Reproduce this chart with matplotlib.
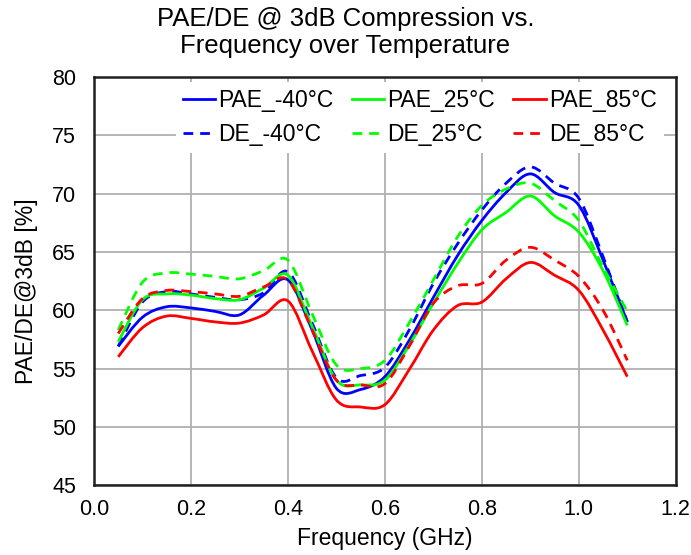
import numpy as np
import matplotlib
matplotlib.use("Agg")
import matplotlib.pyplot as plt
from matplotlib.path import Path
from matplotlib.patches import PathPatch
from matplotlib.lines import Line2D

plt.rcParams['font.family'] = ['Liberation Sans', 'DejaVu Sans']

# frequency points (GHz)
freq = [0.05, 0.10, 0.15, 0.20, 0.25, 0.30, 0.35, 0.40, 0.45, 0.50, 0.55,
        0.60, 0.65, 0.70, 0.75, 0.80, 0.85, 0.90, 0.95, 1.00, 1.05, 1.10]

pae_m40 = [56.9, 59.4, 60.3, 60.2, 59.9, 59.6, 61.3, 62.6, 58.3, 53.3, 53.2,
           54.3, 57.4, 61.1, 64.7, 67.7, 70.1, 71.7, 70.1, 69.0, 64.3, 59.0]
pae_25 = [57.3, 60.9, 61.4, 61.3, 61.0, 60.9, 61.9, 63.0, 58.6, 54.0, 53.6,
          54.0, 57.0, 60.6, 64.0, 66.9, 68.4, 69.8, 68.1, 66.7, 63.4, 58.7]
pae_85 = [56.0, 58.5, 59.5, 59.3, 59.0, 58.9, 59.6, 60.8, 56.5, 52.3, 51.7,
          51.9, 54.9, 58.3, 60.4, 60.7, 62.7, 64.1, 63.0, 61.7, 58.3, 54.3]
de_m40 = [56.9, 60.7, 61.6, 61.4, 61.1, 60.9, 61.5, 63.3, 58.9, 54.2, 54.4,
          55.1, 58.3, 62.3, 65.7, 68.6, 70.9, 72.3, 70.9, 69.6, 64.6, 59.0]
de_25 = [58.3, 62.4, 63.2, 63.1, 62.9, 62.7, 63.4, 64.3, 59.7, 55.3, 55.0,
         55.7, 58.9, 62.6, 66.3, 69.0, 70.4, 70.9, 69.4, 67.7, 63.7, 59.9]
de_85 = [58.0, 61.0, 61.7, 61.6, 61.4, 61.2, 62.0, 62.6, 58.3, 54.0, 53.6,
         53.7, 56.9, 60.6, 62.1, 62.3, 64.3, 65.4, 64.3, 62.9, 60.0, 55.7]

# legend order: column by column (PAE over DE)
labels = ['PAE_-40°C', 'DE_-40°C', 'PAE_25°C', 'DE_25°C', 'PAE_85°C', 'DE_85°C']
colors = ['#0000FF', '#0000FF', '#00FF00', '#00FF00', '#FF0000', '#FF0000']
series = [pae_m40, de_m40, pae_25, de_25, pae_85, de_85]
dashed = [False, True, False, True, False, True]


def smooth_path(x, y):
    # Excel-like smoothed line: cubic bezier through the points
    pts = np.column_stack([x, y])
    n = len(pts)
    verts = [pts[0]]
    codes = [Path.MOVETO]
    for i in range(n - 1):
        p0 = pts[i - 1] if i > 0 else pts[i]
        p1 = pts[i]
        p2 = pts[i + 1]
        p3 = pts[i + 2] if i + 2 < n else pts[i + 1]
        c1 = p1 + (p2 - p0) / 6.0
        c2 = p2 - (p3 - p1) / 6.0
        verts += [c1, c2, p2]
        codes += [Path.CURVE4] * 3
    return Path(verts, codes)


fig = plt.figure(figsize=(6.91, 5.55), dpi=100)
ax = fig.add_axes([0.136, 0.126, 0.842, 0.735])

handles = []
for ys, c, d in zip(series, colors, dashed):
    ls = (0, (3.5, 2.5)) if d else '-'
    patch = PathPatch(smooth_path(freq, ys), fill=False, edgecolor=c,
                      lw=2.0, linestyle=ls, transform=ax.transData, zorder=3)
    ax.add_patch(patch)
    handles.append(Line2D([], [], color=c, lw=2.0, linestyle=ls))

ax.set_xlim(0, 1.2)
ax.set_ylim(45, 80)
ax.set_xticks(np.arange(0, 1.21, 0.2))
ax.set_xticklabels(['%.1f' % v for v in np.arange(0, 1.21, 0.2)])
ax.set_yticks(range(45, 81, 5))
ax.tick_params(labelsize=15.5, length=0)
ax.tick_params(axis='y', pad=13)
ax.tick_params(axis='x', pad=10)
ax.grid(True, color='#b0b0b0', lw=1.3)
ax.set_axisbelow(True)
for s in ax.spines.values():
    s.set_linewidth(1.8)
    s.set_color('#202020')

ax.set_xlabel('Frequency (GHz)', fontsize=16.5, labelpad=5)
ax.set_ylabel('PAE/DE@3dB [%]', fontsize=16.5)
ax.yaxis.set_label_coords(-0.096, 0.475)
fig.text(0.5, 0.988, 'PAE/DE @ 3dB Compression vs.\nFrequency over Temperature',
         fontsize=18.5, ha='center', va='top', linespacing=1.15)

leg = ax.legend(handles, labels, ncol=3, loc='upper center',
                bbox_to_anchor=(0.56, 1.0), frameon=True, fontsize=16.5,
                handlelength=1.4, handletextpad=0.15, columnspacing=0.8,
                labelspacing=0.5, borderaxespad=0.2, borderpad=0.3)
leg.get_frame().set_facecolor('white')
leg.get_frame().set_edgecolor('none')
leg.get_frame().set_alpha(1.0)

fig.savefig('out.png', dpi=100)
